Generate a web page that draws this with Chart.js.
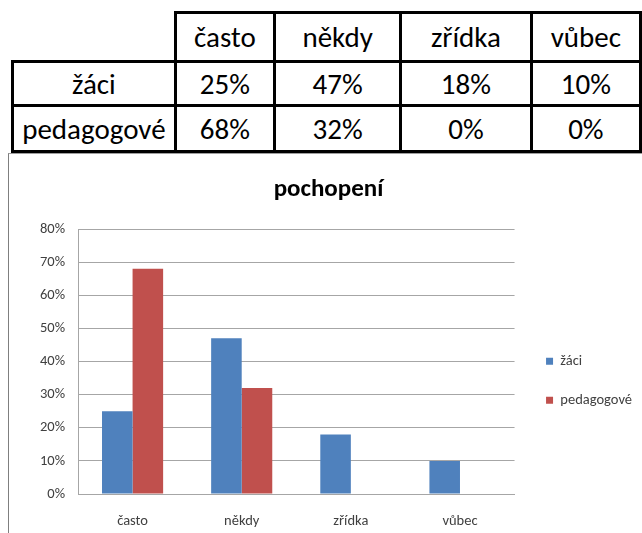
<!DOCTYPE html>
<html>
<head>
<meta charset="utf-8">
<script src="https://cdn.jsdelivr.net/npm/chart.js@4.4.1/dist/chart.umd.min.js"></script>
<style>
  html, body { margin:0; padding:0; background:#fff; }
  body { width:642px; height:533px; overflow:hidden; position:relative;
         font-family: Carlito, Calibri, "Liberation Sans Narrow", "Open Sans", sans-serif; }
  #tbl { position:absolute; left:11px; top:11px; border-collapse:collapse; table-layout:fixed; }
  #tbl td { border:3px solid #000; padding:0; text-align:center; font-size:29px; color:#000; }
  #tbl td.corner { border-top:none; border-left:none; }
  #chartBox { position:absolute; left:8px; top:153px; width:640px; height:380px;
              border-left:1px solid #7f7f7f; border-top:1px solid #9f9f9f; }
  #c { position:absolute; left:0; top:0; }
</style>
</head>
<body>
<table id="tbl"></table>
<div id="chartBox"><canvas id="c" width="633" height="379"></canvas></div>
<script>
// ---- data ----
const categories = ['často', 'někdy', 'zřídka', 'vůbec'];
const seriesNames = ['žáci', 'pedagogové'];
const zaci = [25, 47, 18, 10];
const pedagogove = [68, 32, 0, 0];
const yTickValues = [0, 10, 20, 30, 40, 50, 60, 70, 80];
const chartTitle = 'pochopení';

// ---- table ----
const colWidths = [164, 102, 130, 135, 112];
const rowHeights = [49, 44, 46];
const tbl = document.getElementById('tbl');
const cg = document.createElement('colgroup');
colWidths.forEach(w => { const c = document.createElement('col'); c.style.width = w + 'px'; cg.appendChild(c); });
tbl.appendChild(cg);
const rows = [
  [''].concat(categories),
  [seriesNames[0]].concat(zaci.map(v => v + '%')),
  [seriesNames[1]].concat(pedagogove.map(v => v + '%'))
];
rows.forEach((r, ri) => {
  const tr = document.createElement('tr');
  tr.style.height = rowHeights[ri] + 'px';
  r.forEach((t, ci) => {
    const td = document.createElement('td');
    td.textContent = t;
    if (ri === 0 && ci === 0) td.className = 'corner';
    tr.appendChild(td);
  });
  tbl.appendChild(tr);
});

// ---- chart ----
const FONT = 'Carlito, Calibri, "Liberation Sans Narrow", "Open Sans", sans-serif';
const axisColor = '#a6a6a6';
const txtColor = '#404040';
const legendShift = {
  id: 'legendShift',
  afterLayout(chart) {
    if (chart.legend) { chart.legend.left += 7; chart.legend.right += 7; }
  }
};
new Chart(document.getElementById('c'), {
  type: 'bar',
  data: {
    labels: categories,
    datasets: [
      { label: seriesNames[0], data: zaci, backgroundColor: '#4f81bd', barPercentage: 1, categoryPercentage: 0.56 },
      { label: seriesNames[1], data: pedagogove, backgroundColor: '#c0504d', barPercentage: 1, categoryPercentage: 0.56 }
    ]
  },
  plugins: [legendShift],
  options: {
    responsive: false,
    animation: false,
    devicePixelRatio: 1,
    layout: { padding: { left: 13, right: 7, top: 0, bottom: 0 } },
    plugins: {
      tooltip: { enabled: false },
      title: {
        display: true, text: chartTitle, color: '#000',
        font: { family: FONT, size: 25, weight: 'bold' },
        padding: { top: 21, bottom: 24 }
      },
      legend: {
        position: 'right', align: 'center', fullSize: false,
        title: { display: true, text: '', padding: 10.5, font: { family: FONT, size: 14.5 } },
        labels: { boxWidth: 7, boxHeight: 7, padding: 24.5, color: txtColor, font: { family: FONT, size: 14.5 } }
      }
    },
    scales: {
      x: {
        grid: { display: false },
        border: { display: true, color: axisColor, width: 1 },
        ticks: { color: txtColor, font: { family: FONT, size: 14.5 }, padding: 11 },
        afterFit: s => { s.height = 39; }
      },
      y: {
        min: 0, max: 80,
        afterBuildTicks: s => { s.ticks = yTickValues.map(v => ({ value: v })); },
        grid: { color: axisColor, drawTicks: false },
        border: { display: true, color: axisColor, width: 1 },
        ticks: { color: txtColor, font: { family: FONT, size: 14.5 }, padding: 13, callback: v => v + '%' },
        afterFit: s => { s.width = 56; }
      }
    }
  }
});
</script>
</body>
</html>
